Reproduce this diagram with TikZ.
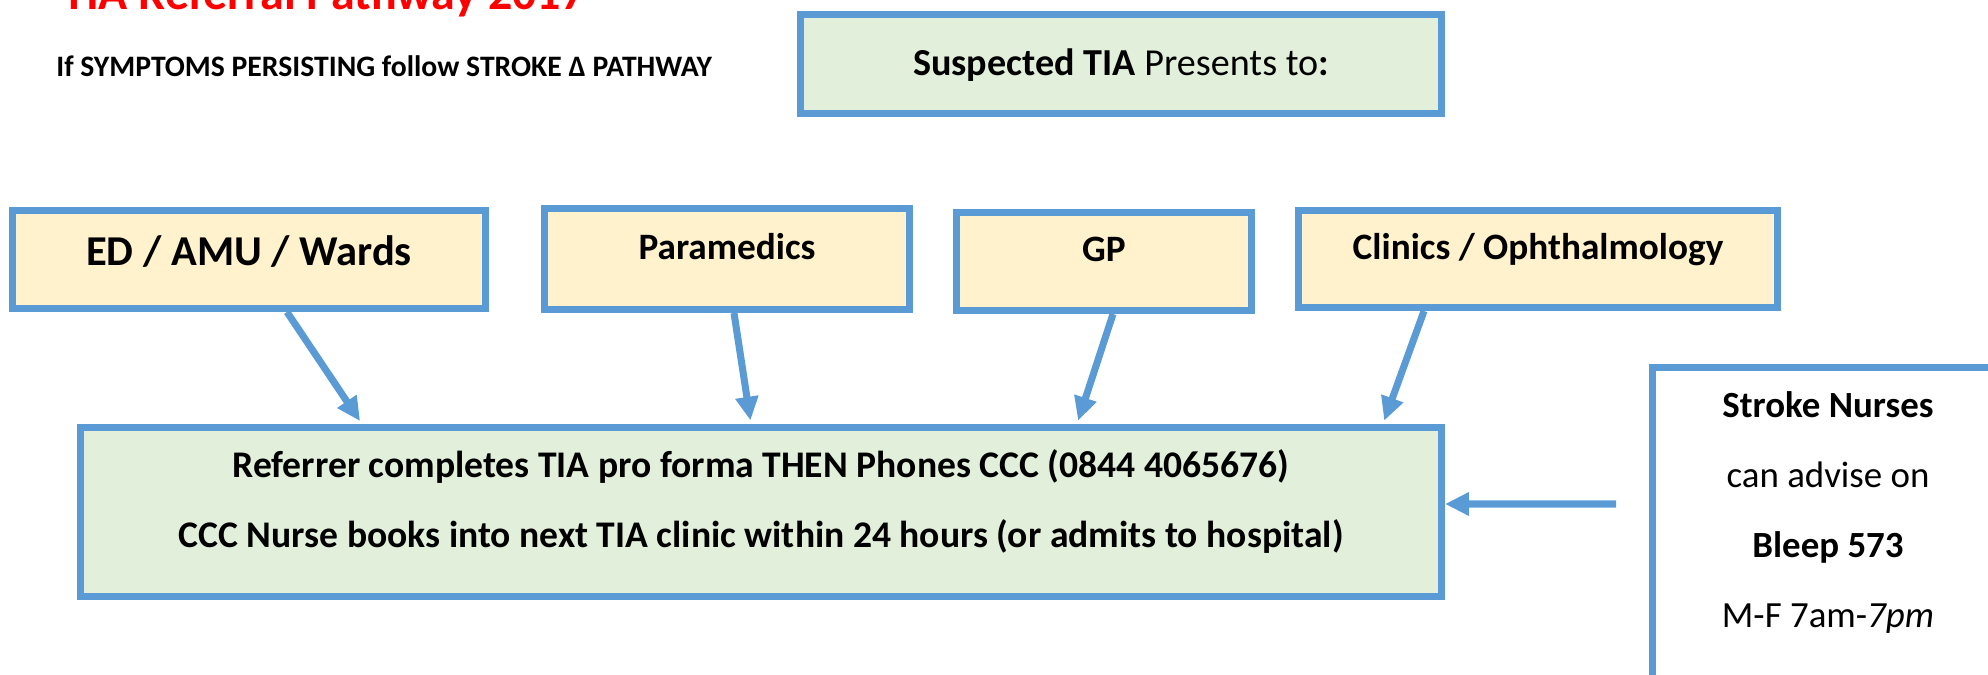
\documentclass[tikz,border=0pt]{standalone}
\usepackage{fontspec}
\setmainfont{Carlito}
\usetikzlibrary{arrows.meta}
\definecolor{boxblue}{HTML}{5B9BD5}
\definecolor{srcfill}{HTML}{FFF2CC}
\definecolor{reffill}{HTML}{E2EFDA}
\definecolor{titlered}{HTML}{FF0000}

\begin{document}
\begin{tikzpicture}[
srcbox/.style={draw=boxblue, fill=srcfill, line width=4pt, inner sep=0pt, font=\bfseries\fontsize{21.2}{25}\selectfont, text height=0.5cm, text depth=0.5cm},
refbox/.style={draw=boxblue, fill=reffill, line width=4pt, inner sep=0pt, align=center},
nursebox/.style={draw=boxblue, fill=white, line width=4pt, inner sep=0pt, align=center, font=\fontsize{21}{39.8}\selectfont},
plaintext/.style={inner sep=0pt, anchor=base west},
arrowline/.style={draw=boxblue, line width=4pt, -{Triangle[length=13.5pt,width=12.5pt]}}
]
    \useasboundingbox (0,0) rectangle (39.76,-13.48);
    \clip (0,0) rectangle (39.76,-13.48);

    \node [plaintext, text=titlered, font=\bfseries\fontsize{27.3}{30}\selectfont] (title) at (1.24,-0.2) {TIA Referral Pathway 2017};
    \node [plaintext, font=\bfseries\fontsize{16.9}{20}\selectfont] (persist) at (1.12,-1.52) {If SYMPTOMS PERSISTING follow STROKE Δ PATHWAY};

    \node [refbox, minimum width=12.82cm, minimum height=1.98cm, font=\fontsize{21.7}{25}\selectfont, text height=0.7cm, text depth=0.24cm] (sus) at (22.42,-1.28) {\textbf{Suspected TIA} Presents to\textbf{:}};

    \node [srcbox, minimum width=9.46cm, minimum height=1.96cm, font=\bfseries\fontsize{24.2}{28}\selectfont, text height=0.6cm, text depth=0.38cm] (ed) at (4.98,-5.19) {ED / AMU / Wards};
    \node [srcbox, minimum width=7.30cm, minimum height=2.02cm] (para) at (14.54,-5.18) {Paramedics};
    \node [srcbox, minimum width=5.90cm, minimum height=1.96cm] (gp) at (22.08,-5.23) {GP};
    \node [srcbox, minimum width=9.58cm, minimum height=1.94cm] (clin) at (30.76,-5.18) {Clinics / Ophthalmology};

    \node [refbox, minimum width=27.22cm, minimum height=3.38cm, font=\bfseries\fontsize{21.4}{39.8}\selectfont, text height=1.6cm, text depth=0.2cm] (ref) at (15.22,-10.24)
        {Referrer completes TIA pro forma THEN Phones CCC (0844 4065676)\\CCC Nurse books into next TIA clinic within 24 hours (or admits to hospital)};

    \node [nursebox, anchor=north, minimum width=7.04cm, text height=5.2cm, text depth=2cm] (nurse) at (36.56,-7.28)
        {\textbf{Stroke Nurses}\\can advise on\\\textbf{Bleep 573}\\M-F 7am-\textit{7pm}};

    \coordinate (nfrom) at (32.32,-10.08);

    \draw [arrowline, shorten >=2pt] ([xshift=0.76cm]ed.south) -- ([xshift=-7.98cm]ref.north);
    \draw [arrowline, shorten >=2pt] ([xshift=0.14cm]para.south) -- ([xshift=-0.2cm]ref.north);
    \draw [arrowline, shorten >=2pt] ([xshift=0.18cm]gp.south) -- ([xshift=6.32cm]ref.north);
    \draw [arrowline, shorten >=2pt] ([xshift=-2.28cm]clin.south) -- ([xshift=12.44cm]ref.north);
    \draw [arrowline] (nfrom) -- ([yshift=0.16cm]ref.east);
\end{tikzpicture}
\end{document}
